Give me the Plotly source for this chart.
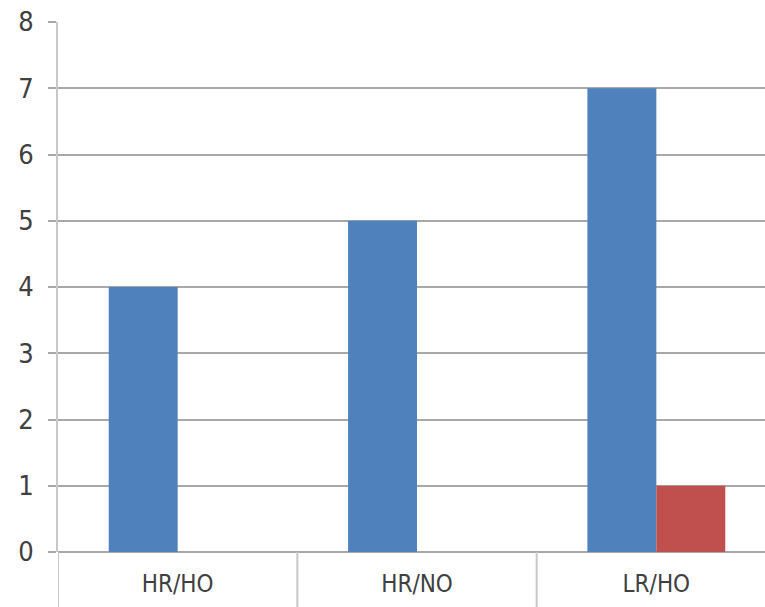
import plotly.graph_objects as go

categories = ["HR/HO", "HR/NO", "LR/HO"]
series_a = [4, 5, 7]
series_b = [0, 0, 1]
y_ticks = [0, 1, 2, 3, 4, 5, 6, 7, 8]

font_family = "DejaVu Sans Condensed, Liberation Sans Narrow, sans-serif"

fig = go.Figure()
fig.add_trace(go.Bar(x=categories, y=series_a, marker=dict(color="#4F81BD", line=dict(width=0)), name="A"))
fig.add_trace(go.Bar(x=categories, y=series_b, marker=dict(color="#C0504D", line=dict(width=0)), name="B"))

# category divider lines below axis
for i in range(len(categories)):
    fig.add_shape(type="line", xref="x", yref="paper", x0=i - 0.5, x1=i - 0.5, y0=0, y1=-0.2,
                  line=dict(color="#c8c8c8", width=2))

fig.update_layout(
    width=765, height=607,
    margin=dict(l=58, r=0, t=22, b=55),
    paper_bgcolor="white", plot_bgcolor="white",
    barmode="group", bargap=0.424, bargroupgap=0,
    showlegend=False,
    font=dict(family=font_family, size=24, color="#404040"),
)
fig.update_xaxes(
    range=[-0.5, 2.454], showgrid=False, showline=False, ticks="",
    tickfont=dict(size=24, color="#404040"), ticklabelstandoff=15,
)
fig.update_yaxes(
    range=[0, 8], tickvals=y_ticks, showgrid=True, gridcolor="#a8a8a8", gridwidth=2,
    showline=True, linecolor="#c8c8c8", linewidth=2, ticks="outside", ticklen=8,
    tickcolor="#a8a8a8", tickwidth=2, zeroline=True, zerolinecolor="#a8a8a8", zerolinewidth=2,
    tickfont=dict(size=27, color="#404040"), ticklabelstandoff=9,
)
fig.write_html("out.html")
